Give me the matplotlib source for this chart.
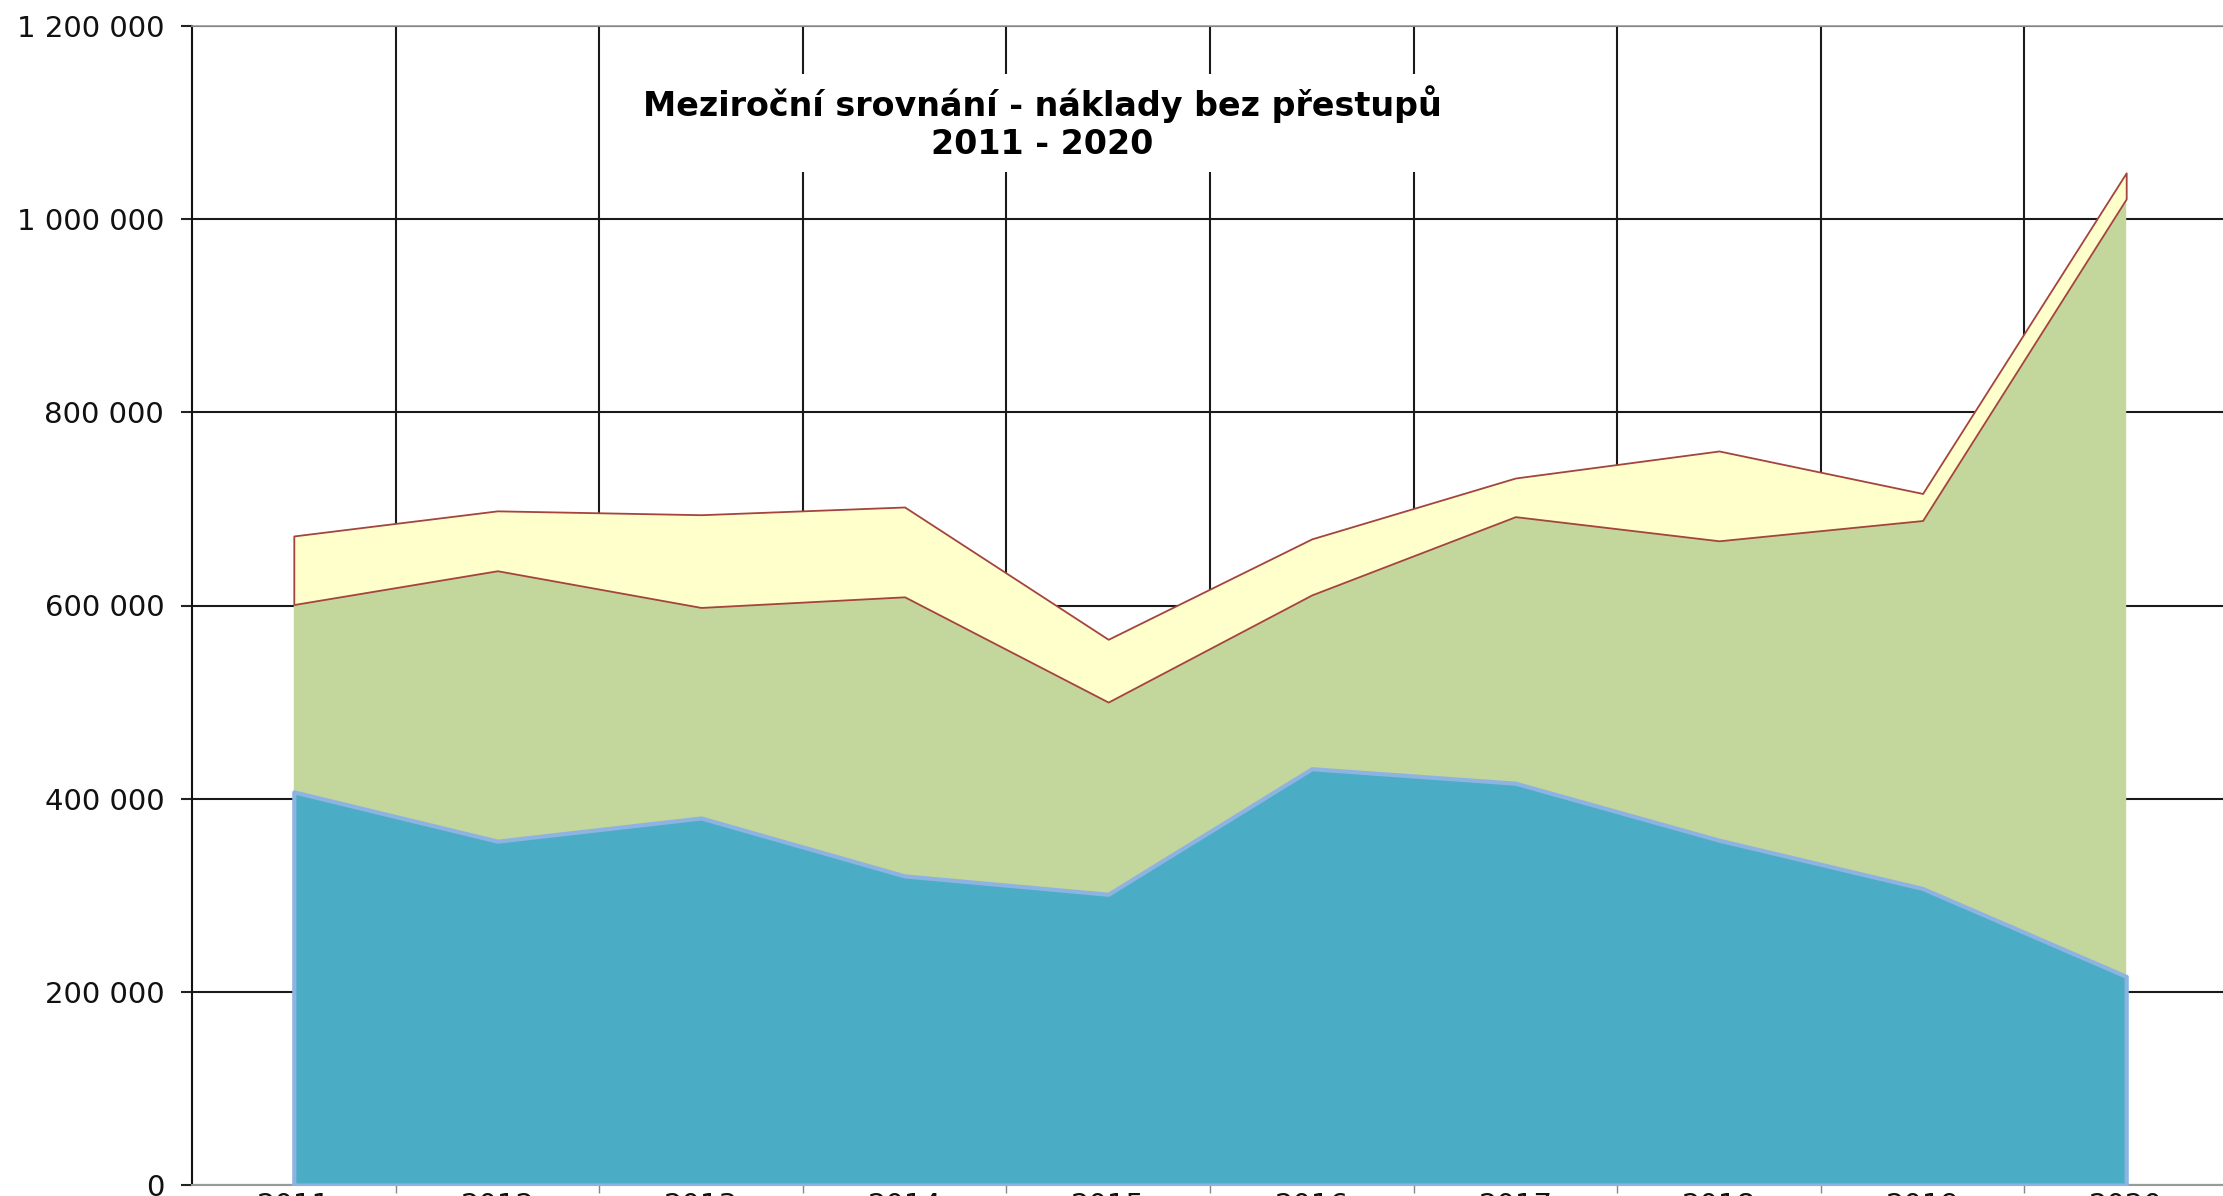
import matplotlib
matplotlib.use("Agg")
import matplotlib.pyplot as plt
import numpy as np
from matplotlib.ticker import FuncFormatter

years = ["2011", "2012", "2013", "2014", "2015", "2016", "2017", "2018", "2019", "2020"]
series_blue = [407000, 356000, 380000, 320000, 301000, 431000, 416000, 357000, 307000, 216000]
series_green = [194000, 280000, 218000, 289000, 199000, 180000, 276000, 310000, 381000, 805000]
series_yellow = [71000, 62000, 96000, 93000, 65000, 58000, 40000, 93000, 28000, 27000]
title_text = "Meziroční srovnání - náklady bez přestupů\n2011 - 2020"

plt.rcParams['font.family'] = ['DejaVu Sans']

W, H = 2223, 1196
fig = plt.figure(figsize=(W / 100, H / 100), dpi=100)
left_px, right_px, top_px, bottom_px = 192, 2228, 26, 1185
ax = fig.add_axes([left_px / W, (H - bottom_px) / H,
                   (right_px - left_px) / W, (bottom_px - top_px) / H])

x = np.arange(len(years))
b = np.array(series_blue, dtype=float)
g_top = b + np.array(series_green, dtype=float)
y_top = g_top + np.array(series_yellow, dtype=float)

ax.fill_between(x, 0, b, facecolor="#4BACC6", edgecolor="#8DB3E2", linewidth=3.0, zorder=3)
ax.fill_between(x, b, g_top, facecolor="#C3D69B", edgecolor="none", linewidth=0, zorder=2)
ax.fill_between(x, g_top, y_top, facecolor="#FFFFCC", edgecolor="#A5433F", linewidth=1.3, zorder=4)

ax.set_xlim(-0.5, 9.5)
ax.set_ylim(0, 1200000)

ax.set_yticks(np.arange(0, 1200001, 200000))
ax.yaxis.set_major_formatter(FuncFormatter(lambda v, p: f"{int(v):,}".replace(",", " ")))
ax.set_xticks(np.arange(0.5, 9.5, 1.0))
ax.set_xticks(x, minor=True)
ax.set_xticklabels([])
ax.set_xticklabels(years, minor=True)

ax.grid(True, which="major", axis="both", color="#1a1a1a", linewidth=1.5, zorder=0)
ax.set_axisbelow(True)

ax.tick_params(axis="y", which="major", length=8, width=1.5, color="#222222",
               labelsize=21, pad=12, labelcolor="#111111")
ax.tick_params(axis="x", which="major", length=6, width=1.0, color="#888888")
ax.tick_params(axis="x", which="minor", length=0, labelsize=21, pad=5, labelcolor="#111111")

ax.spines["right"].set_visible(False)
ax.spines["top"].set_color("#999999")
ax.spines["top"].set_linewidth(1.2)
ax.spines["left"].set_color("#111111")
ax.spines["left"].set_linewidth(1.5)
ax.spines["bottom"].set_color("#999999")
ax.spines["bottom"].set_linewidth(1.5)

fig.text(1042 / W, 1 - 123 / H, title_text, ha="center", va="center",
         fontsize=24, fontweight="bold", linespacing=1.22, color="black",
         bbox=dict(facecolor="white", edgecolor="none", pad=8), zorder=10)

fig.savefig("out.png", dpi=100)
